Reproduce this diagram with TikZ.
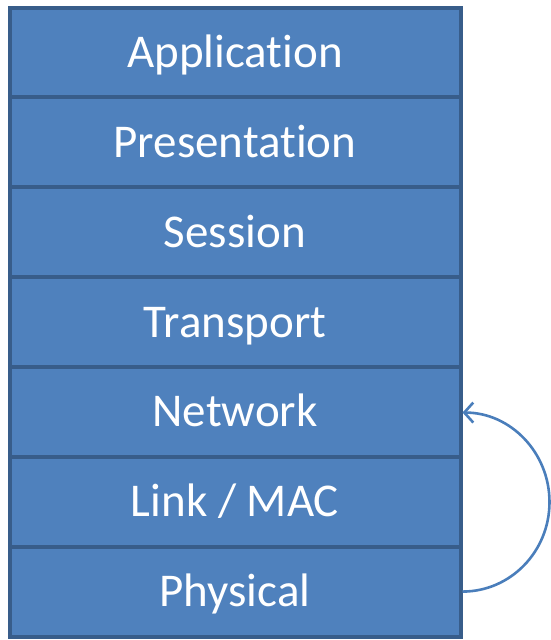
\documentclass[tikz,border=0pt]{standalone}
\usepackage{fontspec}
\setmainfont{Carlito}[Ligatures=NoCommon]
\usetikzlibrary{arrows.meta}
\definecolor{boxfill}{HTML}{4F81BD}
\definecolor{boxline}{HTML}{385D8A}
\definecolor{arrowc}{HTML}{4A7EBB}
\begin{document}
\begin{tikzpicture}[x=1pt,y=-1pt,
  layer/.style={draw=boxline,fill=boxfill,line width=4pt,minimum width=451pt,minimum height=89.857pt,
    inner sep=0pt,outer sep=0pt,text=white,font=\fontsize{47}{56}\selectfont,
    text height=32pt,text depth=2pt,anchor=north west},
  loop/.style={draw=arrowc,line width=2.6pt,-{Straight Barb[length=9pt,width=20pt,line width=2.6pt]}}]
\useasboundingbox (0,0) rectangle (551,640);
\node[layer] (app) at (9.5,7.5) {Application};
\node[layer] (pre) at (app.south west) {Presentation};
\node[layer] (ses) at (pre.south west) {Session};
\node[layer] (tra) at (ses.south west) {Transport};
\node[layer] (net) at (tra.south west) {Network};
\node[layer] (lnk) at (net.south west) {Link / MAC};
\node[layer] (phy) at (lnk.south west) {Physical};
\draw[loop] ([xshift=2pt]phy.east) arc[start angle=-90,end angle=90,x radius=87pt,y radius=89.5pt];
\end{tikzpicture}
\end{document}
